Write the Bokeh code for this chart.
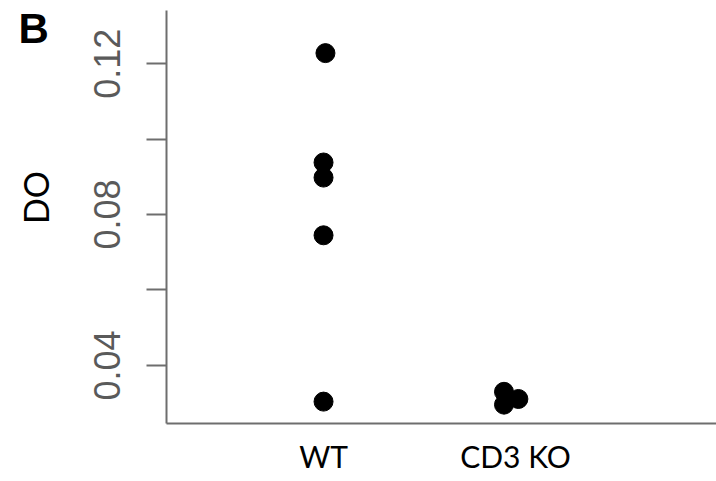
import math
from bokeh.plotting import figure
from bokeh.layouts import row
from bokeh.models import FixedTicker, Range1d, Label, ColumnDataSource
from bokeh.embed import file_html
from bokeh.resources import INLINE

categories = ["WT", "CD3 KO"]
wt_values = [0.1228, 0.0938, 0.0898, 0.0745, 0.0304]
ko_values = [0.0330, 0.0311, 0.0296]
wt_jitter = [0.01, 0.0, 0.0, 0.0, 0.0]
ko_jitter = [-0.06, 0.015, -0.06]
y_major_ticks = [0.04, 0.08, 0.12]
y_minor_ticks = [0.06, 0.10]
y_label = "DO"
panel_letter = "B"

xs = [1 + j for j in wt_jitter] + [2 + j for j in ko_jitter]
ys = wt_values + ko_values
src = ColumnDataSource(dict(x=xs, y=ys))

H = 478
LW = 80
TOP = 10
BOTTOM = 55
FRAME_BOTTOM = H - BOTTOM  # frame bottom in page pixels (frames of the row are aligned)

# left strip holding the panel letter and the y-axis title
side = figure(width=LW, height=H, output_backend="svg", toolbar_location=None,
              x_axis_location=None, y_axis_location=None,
              x_range=Range1d(0, 1), y_range=Range1d(0, 1),
              min_border_left=0, min_border_right=0,
              min_border_top=TOP, min_border_bottom=BOTTOM)
side.outline_line_color = None
side.xgrid.visible = False
side.ygrid.visible = False
side.add_layout(Label(x=18, y=FRAME_BOTTOM - 28, x_units="screen", y_units="screen",
                      text=panel_letter, text_font="Liberation Sans", text_font_style="bold",
                      text_font_size="42px", text_baseline="alphabetic", text_color="black"))
side.add_layout(Label(x=35, y=FRAME_BOTTOM - 197, x_units="screen", y_units="screen",
                      text=y_label, angle=math.pi / 2, text_font="Lato", text_font_size="34px",
                      text_align="center", text_baseline="middle", text_color="black"))

p = figure(width=716 - LW, height=H, output_backend="svg", toolbar_location=None,
           x_range=Range1d(0.182, 3.047), y_range=Range1d(0.0246, 0.1341),
           min_border_left=166 - LW, min_border_right=0,
           min_border_top=TOP, min_border_bottom=BOTTOM)
p.outline_line_color = None
p.xgrid.visible = False
p.ygrid.visible = False
p.background_fill_color = "white"
p.border_fill_color = "white"

p.scatter("x", "y", source=src, size=19, color="black")

ax = p.xaxis[0]
ax.ticker = FixedTicker(ticks=[1, 2])
ax.major_label_overrides = {1: categories[0], 2: categories[1]}
ax.major_tick_line_color = None
ax.minor_tick_line_color = None
ax.axis_line_color = "#6e6e6e"
ax.axis_line_width = 2
ax.major_label_text_font = "Lato"
ax.major_label_text_font_size = "30px"
ax.major_label_text_color = "black"
ax.major_label_standoff = 8

ay = p.yaxis[0]
ay.ticker = FixedTicker(ticks=y_major_ticks, minor_ticks=y_minor_ticks)
ay.axis_line_color = "#6e6e6e"
ay.axis_line_width = 2
ay.major_tick_line_color = "#6e6e6e"
ay.major_tick_line_width = 2
ay.major_tick_out = 20
ay.major_tick_in = 0
ay.minor_tick_line_color = "#6e6e6e"
ay.minor_tick_line_width = 2
ay.minor_tick_out = 20
ay.minor_tick_in = 0
ay.major_label_orientation = "vertical"
ay.major_label_text_font = "Liberation Sans"
ay.major_label_text_font_size = "36px"
ay.major_label_text_color = "#5a5a5a"
ay.major_label_standoff = 26

layout = row(side, p, spacing=0)
open("out.html", "w").write(file_html(layout, INLINE))
